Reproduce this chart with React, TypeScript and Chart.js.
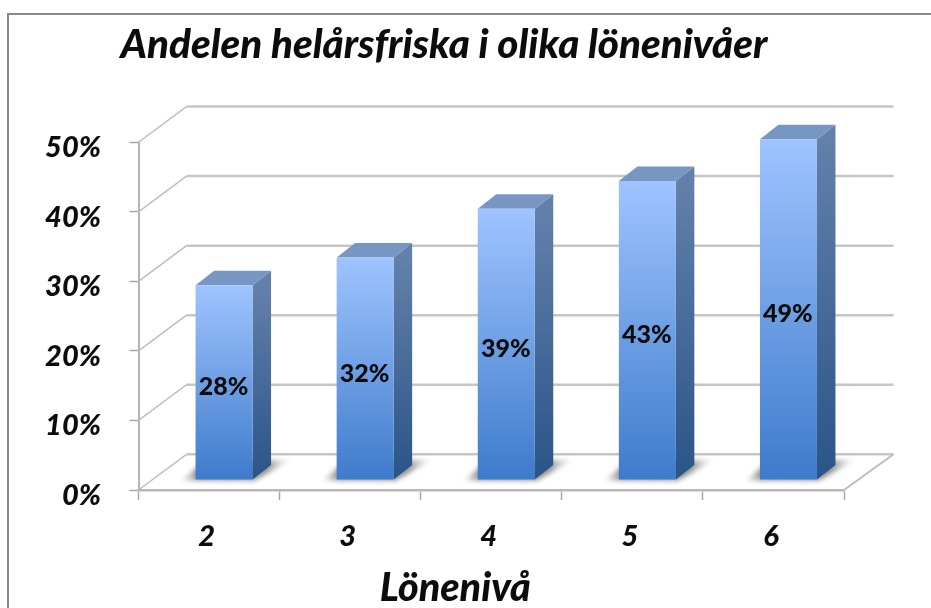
import React, { useEffect, useRef } from "react";
import { Chart, registerables } from "chart.js";

Chart.register(...registerables);

const categories = ["2", "3", "4", "5", "6"];
const shares = [28, 32, 39, 43, 49];
const yTicks = [0, 10, 20, 30, 40, 50];
const chartTitle = "Andelen helårsfriska i olika lönenivåer";
const xTitle = "Lönenivå";

const FONT = "Lato, Carlito, 'Open Sans', sans-serif";
const BAR_SHIFT = { x: 15, y: -10 };
const BAR_DEPTH = { x: 18.5, y: -14.5 };
const WALL_DEPTH = { x: 48, y: -35.7 };
const WALL_RIGHT_X = 49.5;

const scene = {
  id: "scene3d",
  beforeDatasetsDraw(chart: any) {
    const { ctx, scales } = chart;
    const y = scales.y;
    const x = scales.x;
    const l = x.left;
    const r = x.right;

    ctx.save();
    // picture frame
    ctx.strokeStyle = "#8a8a8a";
    ctx.lineWidth = 2;
    ctx.beginPath();
    ctx.moveTo(8, 608);
    ctx.lineTo(8, 14);
    ctx.lineTo(931, 14);
    ctx.stroke();

    // back wall lines and left wall diagonals
    yTicks.forEach((v) => {
      const py = y.getPixelForValue(v);
      ctx.strokeStyle = "#c6c6c6";
      ctx.lineWidth = 2.5;
      ctx.beginPath();
      ctx.moveTo(l + WALL_DEPTH.x, py + WALL_DEPTH.y);
      ctx.lineTo(r + WALL_RIGHT_X, py + WALL_DEPTH.y);
      ctx.stroke();
      ctx.strokeStyle = "#bdbdbd";
      ctx.lineWidth = 1.5;
      ctx.beginPath();
      ctx.moveTo(l, py);
      ctx.lineTo(l + WALL_DEPTH.x, py + WALL_DEPTH.y);
      ctx.stroke();
    });
    // floor right edge
    const y0 = y.getPixelForValue(0);
    ctx.strokeStyle = "#bdbdbd";
    ctx.lineWidth = 2;
    ctx.beginPath();
    ctx.moveTo(r, y0);
    ctx.lineTo(r + WALL_RIGHT_X, y0 + WALL_DEPTH.y);
    ctx.stroke();
    ctx.restore();

    // bar shadows, side and top faces
    const meta = chart.getDatasetMeta(0);
    ctx.save();
    ctx.translate(BAR_SHIFT.x, BAR_SHIFT.y);
    meta.data.forEach((bar: any) => {
      const half = bar.width / 2;
      const left = bar.x - half;
      const right = bar.x + half;
      const top = bar.y;
      const base = bar.base;

      const shade = ctx.createLinearGradient(left - 14, 0, right + 38, 0);
      shade.addColorStop(0, "rgba(190,190,190,0.3)");
      shade.addColorStop(0.14, "rgba(125,125,125,0.85)");
      shade.addColorStop(0.78, "rgba(115,115,115,0.8)");
      shade.addColorStop(1, "rgba(210,210,210,0.2)");
      ctx.save();
      ctx.filter = "blur(2.5px)";
      ctx.fillStyle = shade;
      ctx.beginPath();
      ctx.moveTo(left - 14, base + 1);
      ctx.lineTo(right + 2, base + 1);
      ctx.lineTo(right + 38, base + BAR_DEPTH.y - 5);
      ctx.lineTo(left + 10, base + BAR_DEPTH.y - 5);
      ctx.closePath();
      ctx.fill();
      ctx.restore();

      const side = ctx.createLinearGradient(0, top, 0, base);
      side.addColorStop(0, "#6380aa");
      side.addColorStop(1, "#2a5488");
      ctx.fillStyle = side;
      ctx.beginPath();
      ctx.moveTo(right, top);
      ctx.lineTo(right + BAR_DEPTH.x, top + BAR_DEPTH.y);
      ctx.lineTo(right + BAR_DEPTH.x, base + BAR_DEPTH.y);
      ctx.lineTo(right, base);
      ctx.closePath();
      ctx.fill();

      ctx.fillStyle = "#7896c2";
      ctx.beginPath();
      ctx.moveTo(left, top);
      ctx.lineTo(left + BAR_DEPTH.x, top + BAR_DEPTH.y);
      ctx.lineTo(right + BAR_DEPTH.x, top + BAR_DEPTH.y);
      ctx.lineTo(right, top);
      ctx.closePath();
      ctx.fill();
    });
    ctx.restore();

    // front faces are drawn by the bar controller in the same shifted plane
    ctx.save();
    ctx.translate(BAR_SHIFT.x, BAR_SHIFT.y);
  },
  afterDatasetsDraw(chart: any) {
    const { ctx, scales } = chart;
    ctx.restore();

    const meta = chart.getDatasetMeta(0);
    ctx.save();
    ctx.fillStyle = "#0c0c0c";
    ctx.textAlign = "center";
    ctx.textBaseline = "middle";
    ctx.font = `900 25px ${FONT}`;
    meta.data.forEach((bar: any, i: number) => {
      const cx = bar.x + BAR_SHIFT.x - 0.5;
      const cy = (bar.y + bar.base) / 2 + BAR_SHIFT.y + 5;
      ctx.fillText(`${shares[i]}%`, cx, cy);
    });

    ctx.font = `italic 900 39.5px ${FONT}`;
    ctx.textBaseline = "alphabetic";
    ctx.fillStyle = "#0c0c0c";
    const xs = scales.x;
    ctx.fillText(xTitle, (xs.left + xs.right) / 2 - 36, 601);
    ctx.restore();
  },
};

export default function App() {
  const ref = useRef<HTMLCanvasElement | null>(null);

  useEffect(() => {
    if (!ref.current) return;
    const chart = new Chart(ref.current, {
      type: "bar",
      data: {
        labels: categories,
        datasets: [
          {
            data: shares,
            barPercentage: 0.404,
            categoryPercentage: 1,
            backgroundColor: (c: any) => {
              const { chart: ch, raw } = c;
              const sy = ch.scales.y;
              const a = sy && raw !== undefined ? sy.getPixelForValue(raw) : NaN;
              const b = sy ? sy.getPixelForValue(0) : NaN;
              if (!Number.isFinite(a) || !Number.isFinite(b)) return "#6699dd";
              const g = ch.ctx.createLinearGradient(0, a, 0, b);
              g.addColorStop(0, "#9fc4ff");
              g.addColorStop(1, "#3e7bcb");
              return g;
            },
          },
        ],
      },
      options: {
        responsive: false,
        animation: false,
        layout: { padding: { left: 44, right: 87, top: 0, bottom: 0 } },
        plugins: {
          legend: { display: false },
          tooltip: { enabled: false },
          title: {
            display: true,
            text: chartTitle,
            color: "#0c0c0c",
            font: { family: FONT, size: 40.3, weight: "900", style: "italic" },
            padding: { top: 20.8, bottom: 73.1 },
          },
        },
        scales: {
          x: {
            afterFit: (s: any) => {
              s.height = 118;
            },
            grid: {
              drawOnChartArea: false,
              drawTicks: true,
              tickLength: 10,
              tickColor: "#a8a8a8",
              tickWidth: 1.5,
            },
            border: { display: true, color: "#b8b8b8", width: 2.5 },
            ticks: {
              color: "#0c0c0c",
              font: { family: FONT, size: 29, weight: "900", style: "italic" },
              padding: 19,
              labelOffset: -2.5,
              maxRotation: 0,
            },
          },
          y: {
            min: 0,
            max: 50,
            afterFit: (s: any) => {
              s.width = 94.5;
            },
            afterBuildTicks: (s: any) => {
              s.ticks = yTicks.map((value) => ({ value }));
            },
            grid: {
              drawOnChartArea: false,
              drawTicks: true,
              tickLength: 9,
              tickColor: "#a8a8a8",
              tickWidth: 1.5,
            },
            border: { display: true, color: "#b4b4b4", width: 2 },
            ticks: {
              color: "#0c0c0c",
              font: { family: FONT, size: 29, weight: "900", style: "italic" },
              padding: 28.5,
              labelOffset: 5.5,
              callback: (v: any) => `${v}%`,
            },
          },
        },
      },
      plugins: [scene],
    } as any);
    return () => chart.destroy();
  }, []);

  return (
    <div style={{ position: "absolute", left: 0, top: 0, width: 931, height: 608, overflow: "hidden", background: "#fff" }}>
      <canvas ref={ref} width={931} height={608} style={{ display: "block", width: 931, height: 608, filter: "blur(0.6px)" }} />
    </div>
  );
}
